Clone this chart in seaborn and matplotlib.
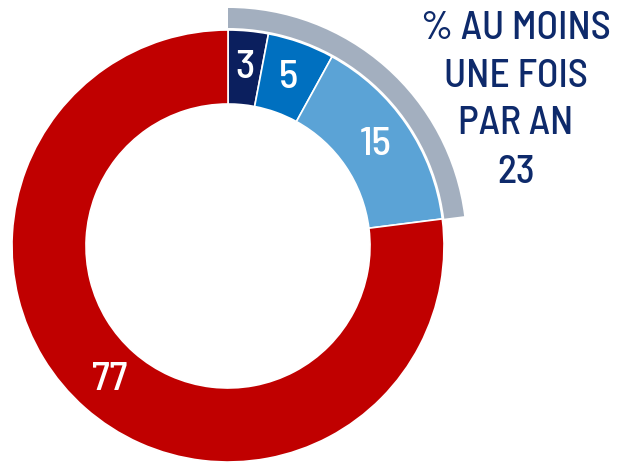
import matplotlib
matplotlib.use("Agg")
import matplotlib.pyplot as plt
import seaborn as sns

# Share of respondents by frequency (percent)
categories = ["Plusieurs fois par mois", "Une fois par mois", "Quelques fois par an", "Jamais"]
values = [3, 5, 15, 77]
colors = ["#0B1F5E", "#0070C0", "#5BA3D6", "#C00000"]
summary_value = 23
summary_lines = ["% AU MOINS", "UNE FOIS", "PAR AN", str(summary_value)]

sns.set_theme(style="white")
plt.rcParams["font.family"] = ["Barlow Semi Condensed", "DejaVu Sans"]
plt.rcParams["font.weight"] = 500

W, H = 617, 465
fig = plt.figure(figsize=(W / 100, H / 100), dpi=100)
ax = fig.add_axes([0, 0, 1, 1])

cx, cy = 228, H - 246
r_out, r_in = 216, 142

wedges, texts = ax.pie(
    values,
    colors=colors,
    labels=[str(v) for v in values],
    labeldistance=(r_out + r_in) / 2 / r_out,
    startangle=90,
    counterclock=False,
    radius=r_out,
    center=(cx, cy),
    wedgeprops=dict(width=r_out - r_in, edgecolor="white", linewidth=1.2),
    textprops=dict(color="white", fontsize=29.5, fontweight=500),
    frame=True,
)
for t in texts:
    t.set_ha("center")
    t.set_va("center")

# Outer grey band over the "at least once a year" share
band, _ = ax.pie(
    [summary_value, 100 - summary_value],
    colors=["#A3AFBF", "none"],
    startangle=90,
    counterclock=False,
    radius=r_out + 22,
    center=(cx, cy),
    wedgeprops=dict(width=20, linewidth=0),
    frame=True,
)
ax.set_xlim(0, W)
ax.set_ylim(0, H)
ax.set_aspect("equal")
ax.axis("off")

line_y = [29, 77, 124, 173]
for txt, y in zip(summary_lines, line_y):
    ax.text(516, H - y, txt, color="#0E2A6B", fontsize=28.5, fontweight=500,
            ha="center", va="center")

fig.savefig("out.png", dpi=100)
